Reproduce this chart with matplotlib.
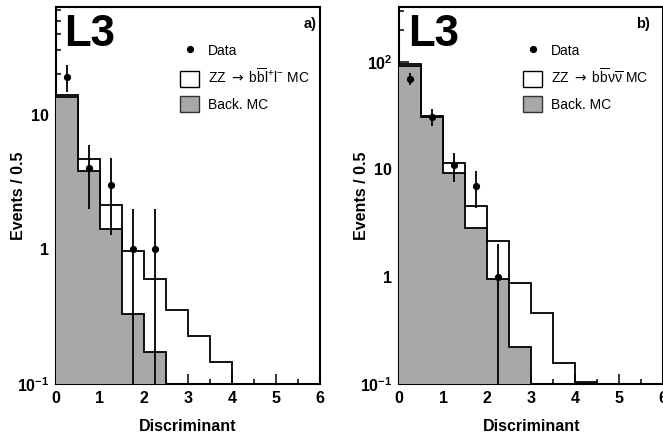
import numpy as np
import matplotlib
matplotlib.use('Agg')
import matplotlib.pyplot as plt
from matplotlib.patches import Patch
from matplotlib.lines import Line2D
from matplotlib.ticker import FixedLocator, MultipleLocator, LogLocator, FuncFormatter, NullFormatter

plt.rcParams['font.family'] = ['Liberation Sans', 'DejaVu Sans']
plt.rcParams['font.weight'] = 'bold'
plt.rcParams['mathtext.fontset'] = 'custom'
plt.rcParams['mathtext.rm'] = 'Liberation Sans:normal'
plt.rcParams['mathtext.bf'] = 'Liberation Sans:bold'
plt.rcParams['mathtext.it'] = 'Liberation Sans:italic:normal'
plt.rcParams['mathtext.sf'] = 'DejaVu Sans:normal'

# ---- data ----
bin_edges = [0.0, 0.5, 1.0, 1.5, 2.0, 2.5, 3.0, 3.5, 4.0, 4.5, 5.0, 5.5, 6.0]
data_x = [0.25, 0.75, 1.25, 1.75, 2.25]

# panel a) ZZ -> b b l+ l-
a_back = [13.6, 3.84, 1.41, 0.33, 0.172, 0, 0, 0, 0, 0, 0, 0]
a_total = [13.9, 4.7, 2.14, 0.97, 0.605, 0.354, 0.227, 0.145, 0, 0, 0, 0]
a_data = [19, 4, 3, 1, 1]

# panel b) ZZ -> b b nu nu
b_back = [92.5, 30.5, 9.2, 2.83, 0.95, 0.22, 0, 0, 0, 0, 0, 0]
b_total = [95.8, 31.6, 11.4, 4.6, 2.17, 0.88, 0.456, 0.156, 0.104, 0, 0, 0]
b_data = [70, 31, 11, 7, 1]

panels = [
    dict(back=a_back, total=a_total, data=a_data, ymax=63, tag='a)', tagx=0.988,
         sig=r'ZZ $\mathsf{\rightarrow}$ b$\overline{\mathrm{b}}$l$^{+}$l$^{-}$ MC',
         rect=[56/663, 53/437, 264/663, 377/437], l3x=0.029),
    dict(back=b_back, total=b_total, data=b_data, ymax=325, tag='b)', tagx=0.95,
         sig=r'ZZ $\mathsf{\rightarrow}$ b$\overline{\mathrm{b}}\mathrm{\nu}\overline{\mathrm{\nu}}$ MC',
         rect=[399.3/663, 53/437, 264/663, 377/437], l3x=0.035),
]

GRAY = '#a8a8a8'

def yfmt(v, pos):
    if abs(v - 0.1) < 1e-9:
        return r'$\mathbf{10^{-1}}$'
    if abs(v - 1) < 1e-9:
        return '1'
    if abs(v - 10) < 1e-9:
        return '10'
    if abs(v - 100) < 1e-9:
        return r'$\mathbf{10^{2}}$'
    return ''

fig = plt.figure(figsize=(6.63, 4.37), dpi=100)

for p in panels:
    ax = fig.add_axes(p['rect'])
    ax.set_yscale('log')
    edges = np.array(bin_edges)
    tot = np.maximum(np.array(p['total'], float), 1e-4)
    bk = np.maximum(np.array(p['back'], float), 1e-4)
    ax.stairs(tot, edges, baseline=1e-4, fill=True, facecolor='white', edgecolor='none', zorder=1)
    ax.stairs(tot, edges, baseline=None, color='black', lw=1.3, zorder=2)
    ax.stairs(bk, edges, baseline=1e-4, fill=True, facecolor=GRAY, edgecolor='none', zorder=3)
    ax.stairs(bk, edges, baseline=None, color='black', lw=1.3, zorder=4)

    d = np.array(p['data'], float)
    ax.errorbar(data_x, d, yerr=np.sqrt(d), fmt='o', color='black', ms=4.2,
                elinewidth=1.3, capsize=0, zorder=6, clip_on=True)

    ax.set_xlim(0, 6)
    ax.set_ylim(0.1, p['ymax'])
    ax.xaxis.set_major_locator(MultipleLocator(1))
    ax.xaxis.set_minor_locator(MultipleLocator(0.5))
    ax.yaxis.set_major_locator(FixedLocator([0.1, 1, 10, 100]))
    ax.yaxis.set_major_formatter(FuncFormatter(yfmt))
    ax.yaxis.set_minor_locator(LogLocator(base=10, subs=np.arange(2, 10)))
    ax.yaxis.set_minor_formatter(NullFormatter())
    ax.tick_params(which='both', direction='in', top=False, right=False, width=1.1)
    ax.tick_params(which='major', length=7, labelsize=11.5, pad=5)
    ax.tick_params(which='minor', length=3.5)
    for s in ax.spines.values():
        s.set_linewidth(1.5)

    ax.set_xlabel('Discriminant', fontsize=11.5, fontweight='bold')
    ax.xaxis.set_label_coords(0.5, -0.092)
    ax.set_ylabel('Events / 0.5', fontsize=11.5, fontweight='bold')
    ax.yaxis.set_label_coords(-0.114, 0.5)

    ax.text(p['l3x'], 0.897, 'L3', transform=ax.transAxes, fontsize=31.5,
            fontweight='bold', ha='left', va='baseline')
    ax.text(p['tagx'], 0.944, p['tag'], transform=ax.transAxes, fontsize=10.5,
            fontweight='bold', ha='right', va='baseline')

    handles = [
        Line2D([], [], marker='o', ls='none', color='black', ms=4.2),
        Patch(facecolor='white', edgecolor='black', lw=1.0),
        Patch(facecolor=GRAY, edgecolor='#333333', lw=1.0),
    ]
    labels = ['Data', p['sig'], 'Back. MC']
    ax.legend(handles, labels, loc='upper left', bbox_to_anchor=(0.47, 0.906),
              frameon=False, prop={'weight': 'normal', 'size': 10},
              handlelength=1.37, handleheight=1.44, handletextpad=0.63,
              labelspacing=0.62, borderpad=0, borderaxespad=0)

fig.savefig('out.png', dpi=100)
